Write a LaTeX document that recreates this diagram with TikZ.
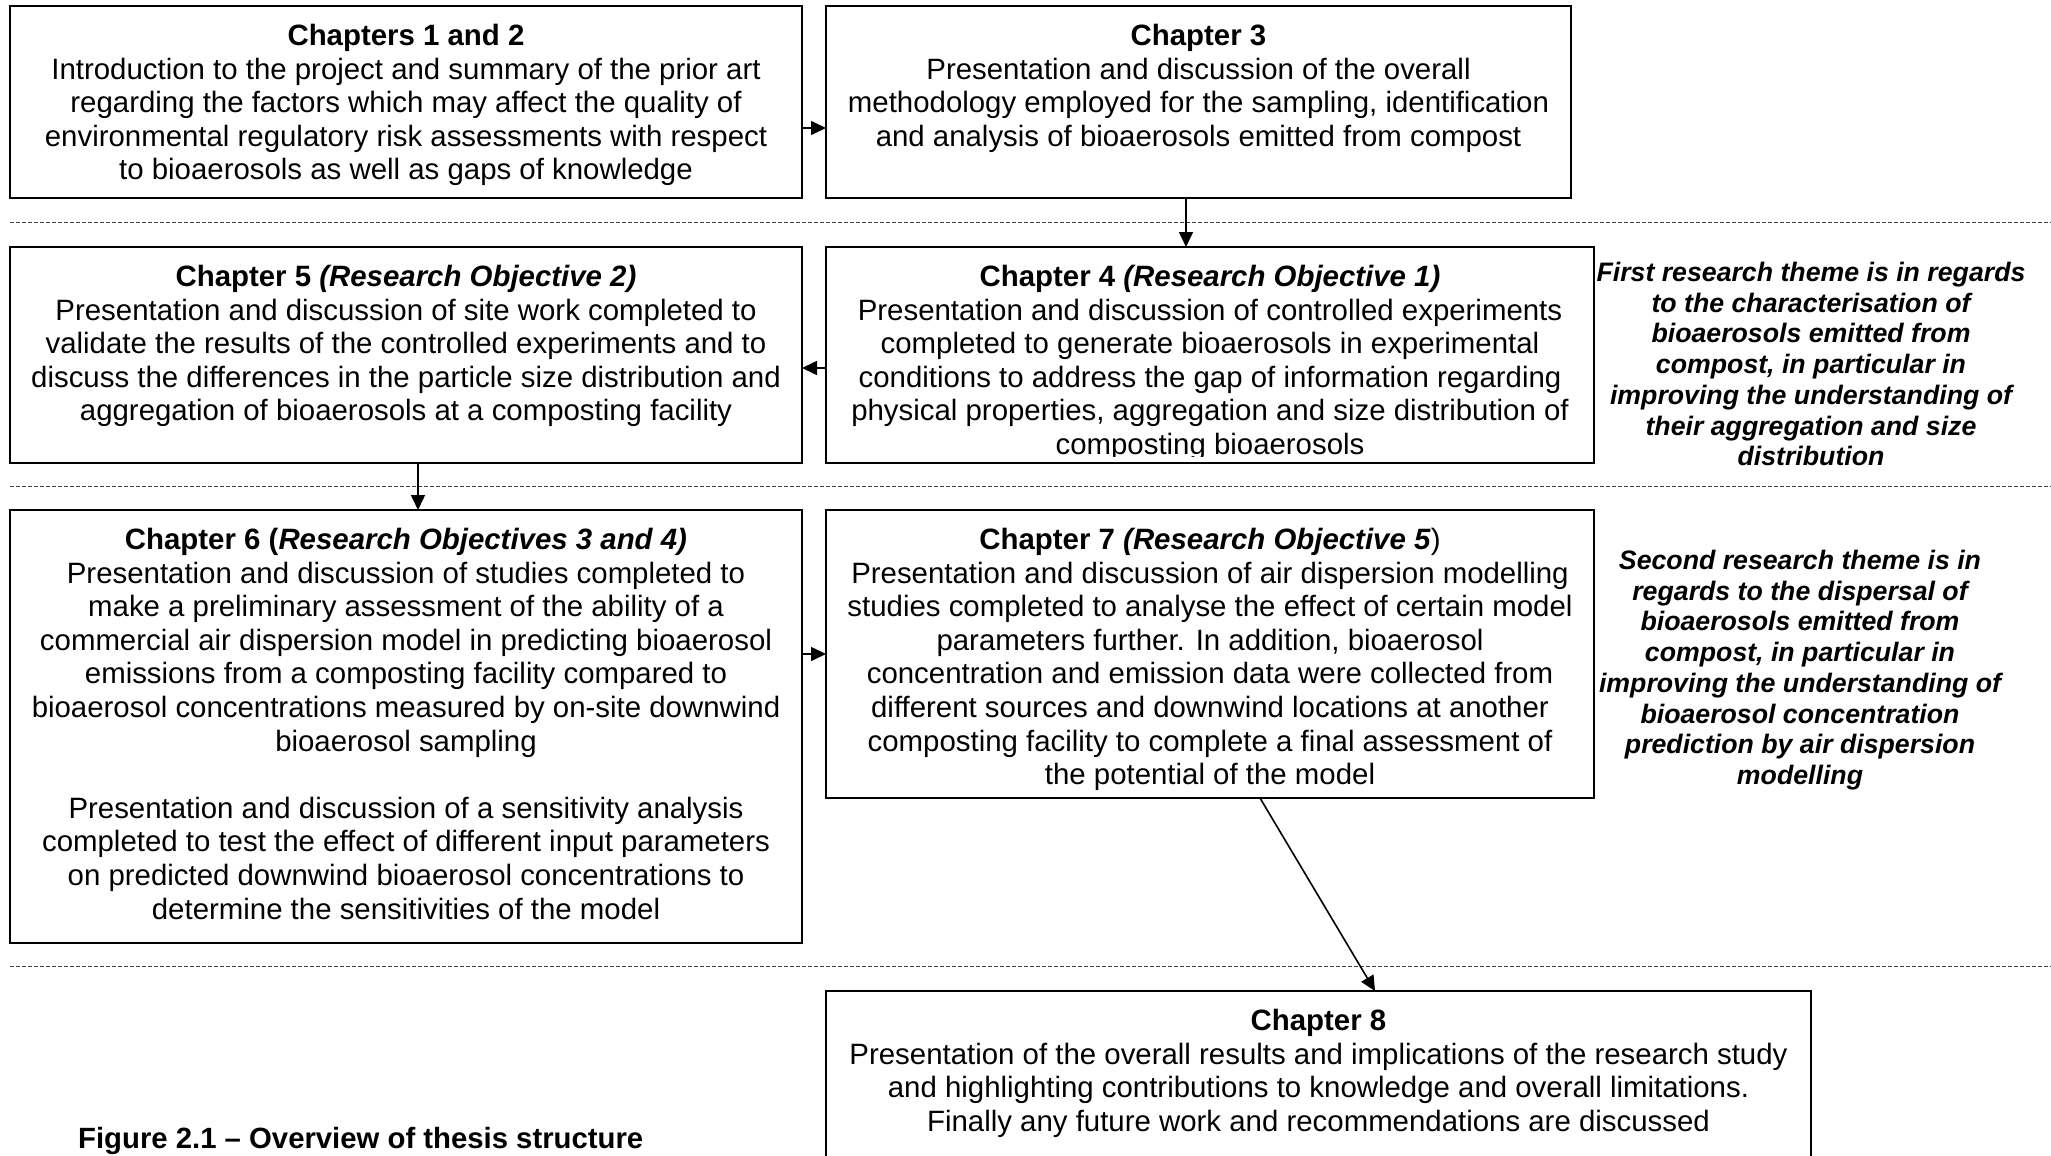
\documentclass[tikz,border=0pt]{standalone}
\usepackage{fontspec}
\setmainfont{Liberation Sans}
\usetikzlibrary{arrows.meta}
\begin{document}
\begin{tikzpicture}[x=1pt,y=-1pt,
  chbox/.style={draw, line width=2pt, rectangle, inner sep=0pt, outer sep=0pt, anchor=north west},
  body/.style={anchor=north, align=center, inner sep=0pt, font=\fontsize{29.4}{33.6}\selectfont},
  theme/.style={anchor=north, align=center, inner sep=0pt, font=\fontsize{26.7}{30.7}\selectfont\bfseries\itshape},
  link/.style={line width=1.6pt, -{Triangle[length=15pt,width=14pt]}},
  sep/.style={dash pattern=on 4pt off 2pt, line width=1pt, black!75}]

% page frame
\path[use as bounding box, clip] (0,0) rectangle (2051,1156);
\fill[white] (0,0) rectangle (2051,1156);

% horizontal separators between the rows
\draw[sep] (10,222.5) -- (2051,222.5);
\draw[sep] (10,486) -- (2051,486);
\draw[sep] (10,966) -- (2051,966);

% chapter frames
\node[chbox, minimum width=792pt, minimum height=192pt] (c12) at (10,6) {};
\node[chbox, minimum width=745pt, minimum height=192pt] (c3) at (826,6) {};
\node[chbox, minimum width=792pt, minimum height=216pt] (c5) at (10,247) {};
\node[chbox, minimum width=768pt, minimum height=216pt] (c4) at (826,247) {};
\node[chbox, minimum width=792pt, minimum height=433pt] (c6) at (10,510) {};
\node[chbox, minimum width=768pt, minimum height=288pt] (c7) at (826,510) {};
\node[chbox, minimum width=985pt, minimum height=220pt] (c8) at (826,991) {};

% chapter texts
\node[body] (t12) at (406,24) {\textbf{Chapters 1 and 2}\\
Introduction to the project and summary of the prior art\\
regarding the factors which may affect the quality of\\
environmental regulatory risk assessments with respect\\
to bioaerosols as well as gaps of knowledge};

\node[body] (t3) at (1198.5,24) {\textbf{Chapter 3}\\
Presentation and discussion of the overall\\
methodology employed for the sampling, identification\\
and analysis of bioaerosols emitted from compost};

\node[body] (t5) at (406,265) {\textbf{Chapter 5 \textit{(Research Objective 2)}}\\
Presentation and discussion of site work completed to\\
validate the results of the controlled experiments and to\\
discuss the differences in the particle size distribution and\\
aggregation of bioaerosols at a composting facility};

\begin{scope}
\clip (826,247) rectangle (1594,456);
\node[body] (t4) at (1210,265) {\textbf{Chapter 4 \textit{(Research Objective 1)}}\\
Presentation and discussion of controlled experiments\\
completed to generate bioaerosols in experimental\\
conditions to address the gap of information regarding\\
physical properties, aggregation and size distribution of\\
composting bioaerosols};
\end{scope}

\node[body] (t6) at (406,528) {\textbf{Chapter 6 (\textit{Research Objectives 3 and 4)}}\\
Presentation and discussion of studies completed to\\
make a preliminary assessment of the ability of a\\
commercial air dispersion model in predicting bioaerosol\\
emissions from a composting facility compared to\\
bioaerosol concentrations measured by on-site downwind\\
bioaerosol sampling\\[33.6pt]
Presentation and discussion of a sensitivity analysis\\
completed to test the effect of different input parameters\\
on predicted downwind bioaerosol concentrations to\\
determine the sensitivities of the model};

\begin{scope}
\clip (826,510) rectangle (1594,792);
\node[body] (t7) at (1210,528) {\textbf{Chapter 7 \textit{(Research Objective 5}})\\
Presentation and discussion of air dispersion modelling\\
studies completed to analyse the effect of certain model\\
parameters further. In addition, bioaerosol\\
concentration and emission data were collected from\\
different sources and downwind locations at another\\
composting facility to complete a final assessment of\\
the potential of the model};
\end{scope}

\node[body] (t8) at (1318.5,1009) {\textbf{Chapter 8}\\
Presentation of the overall results and implications of the research study\\
and highlighting contributions to knowledge and overall limitations.\\
Finally any future work and recommendations are discussed};

% research themes
\node[theme] (th1) at (1811,262) {First research theme is in regards\\
to the characterisation of\\
bioaerosols emitted from\\
compost, in particular in\\
improving the understanding of\\
their aggregation and size\\
distribution};

\node[theme] (th2) at (1800,550) {Second research theme is in\\
regards to the dispersal of\\
bioaerosols emitted from\\
compost, in particular in\\
improving the understanding of\\
bioaerosol concentration\\
prediction by air dispersion\\
modelling};

% caption
\node[anchor=north west, inner sep=0pt, font=\fontsize{29.3}{33.6}\selectfont\bfseries] (cap) at (78,1127) {Figure 2.1 – Overview of thesis structure};

% connector levels
\coordinate (lv1) at (0,128);
\coordinate (lv2) at (1186,0);
\coordinate (lv3) at (0,368);
\coordinate (lv4) at (418,0);
\coordinate (lv5) at (0,654);
\coordinate (lv6) at (1260,0);
\coordinate (lv7) at (1375,0);

% connectors
\draw[link] (c12.east |- lv1) -- (c3.west |- lv1);
\draw[link] (c3.south -| lv2) -- (c4.north -| lv2);
\draw[link] (c4.west |- lv3) -- (c5.east |- lv3);
\draw[link] (c5.south -| lv4) -- (c6.north -| lv4);
\draw[link] (c6.east |- lv5) -- (c7.west |- lv5);
\draw[link] (c7.south -| lv6) -- (c8.north -| lv7);
\end{tikzpicture}
\end{document}
